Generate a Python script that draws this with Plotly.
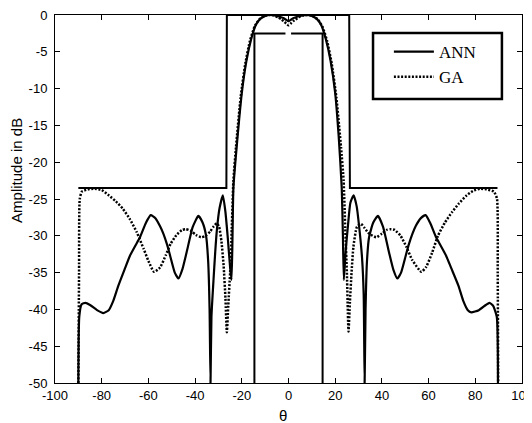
import plotly.graph_objects as go

# ---------------- data ----------------
ann_theta = [-90, -89.6, -88.6, -87, -85, -82, -79.3, -77, -75, -72.9, -70, -67.9, -65, -63.6,
             -61, -59, -57, -55, -53.6, -52, -50.7, -48.7, -47.1, -45.5, -43.6, -41, -38.6,
             -36.8, -35.3, -34.4, -33.8, -33.4, -33, -32.1, -31.4, -30.7, -29.5, -28.1, -27,
             -26, -25, -24.4, -24, -23.6, -22, -20, -18, -16, -14, -12, -10, -8, -6, -4, -2,
             -1, 0, 1, 2, 4, 6, 8, 10, 12, 14, 16, 18, 20, 21.5, 22.8, 23.3, 23.7, 24.5, 25.5,
             26.5, 27.9, 29.2, 30.5, 31.5, 32.2, 32.6, 33, 33.6, 34.5, 36.3, 38.3, 40.5, 43,
             44.9, 46.6, 48.2, 50.2, 51.5, 53.1, 54.6, 56.7, 58.7, 60.6, 63.2, 64.6, 67.5,
             69.7, 72.8, 74.8, 76.8, 78.3, 81.5, 84.5, 86.1, 87.6, 89.2, 89.7]
ann_db = [-50, -41, -39.3, -39.1, -39.4, -40.1, -40.5, -40.1, -38.8, -36.8, -34.4, -32.7, -31,
          -30.2, -28.2, -27.2, -27.6, -28.7, -29.7, -31.2, -32.7, -35, -35.8, -34.6, -32.2,
          -28.8, -27.3, -28.2, -30, -33.5, -40, -50, -41, -35.9, -32.3, -29.3, -26.2, -24.5,
          -26.8, -30.3, -34.3, -36, -30.5, -23.5, -17.2, -10.6, -6.2, -3.3, -1.35, -0.5,
          -0.12, 0, -0.05, -0.2, -0.45, -0.65, -0.85, -0.65, -0.45, -0.2, -0.05, 0, -0.12,
          -0.5, -1.35, -3.3, -6.2, -10.6, -16.5, -23.5, -30, -36, -32, -28.5, -25.5, -24.5,
          -26, -29.5, -33, -38, -50, -40, -33.5, -30.2, -28.2, -27.3, -28.8, -32.2, -34.6,
          -35.8, -35, -32.7, -31.2, -29.7, -28.6, -27.6, -27.2, -28.2, -30.2, -31, -32.7,
          -34.4, -36.8, -38.8, -40.1, -40.4, -40.1, -39.4, -39.1, -39.5, -41, -50]

ga_theta = [-90, -89.7, -89.4, -88.5, -86, -83, -80, -77, -74, -71, -68, -65, -62, -60, -57.6,
            -55, -52.5, -50.5, -48, -45.5, -44, -42, -39.5, -37.5, -35.5, -33.5, -32, -30.7,
            -29.7, -28.7, -27.8, -27, -26.4, -25.8, -25, -24.3, -23.6, -22.5, -20.5, -18.5,
            -16.5, -14.5, -12.5, -10.5, -8.5, -6.5, -4.5, -3, -2, -1, 0, 1, 2, 3, 4.5, 6.5,
            8.5, 10.5, 12.5, 14.5, 16.5, 18.5, 20.5, 22.5, 23.6, 24.3, 25, 25.7, 26.3, 27,
            27.8, 29.3, 31.1, 32.5, 34.5, 37.6, 40, 42, 44, 45.5, 48, 50.5, 53, 56.9, 59,
            61.5, 64, 67, 70, 73, 76, 79, 82, 85, 88, 89.3, 89.6, 89.8]
ga_db = [-50, -35, -25, -24, -23.7, -23.6, -23.8, -24.5, -25.3, -26.3, -27.7, -29.5, -31.8,
         -33.4, -34.9, -34.3, -32.6, -31.1, -29.9, -29.2, -29.1, -29.3, -29.9, -30.2, -30,
         -29.4, -28.7, -28.3, -28.8, -30.8, -34, -38.5, -43.1, -39.5, -35, -29, -22.5, -18,
         -11.2, -6.6, -3.5, -1.55, -0.6, -0.15, 0, -0.05, -0.3, -0.6, -0.85, -1.15, -1.4,
         -1.15, -0.85, -0.6, -0.3, -0.05, 0, -0.15, -0.6, -1.55, -3.5, -6.6, -11.2, -18,
         -22.5, -29, -35, -43, -39, -35, -31.5, -28.8, -28.4, -28.9, -29.7, -30.2, -29.7,
         -29.2, -29.1, -29.2, -30, -31.5, -33.3, -34.9, -34.2, -32.3, -30, -28.2, -26.8,
         -25.6, -24.6, -23.9, -23.6, -23.7, -24, -25, -35, -50]

# pattern mask (upper and lower bounds)
mask_upper_theta = [-90, -26.6, -26.4, 26.0, 26.3, 89.5]
mask_upper_db = [-23.5, -23.5, 0, 0, -23.5, -23.5]
mask_lower_theta = [-14.6, -14.6, -1.3, None, 1.1, 14.6, 14.6]
mask_lower_db = [-50, -2.5, -2.5, None, -2.5, -2.5, -50]

x_tick_vals = [-100, -80, -60, -40, -20, 0, 20, 40, 60, 80, 100]
x_tick_text = ["-100", "-80", "-60", "-40", "-20", "0", "20", "40", "60", "80", "100"]
y_tick_vals = [-50, -45, -40, -35, -30, -25, -20, -15, -10, -5, 0]
y_tick_text = ["-50", "-45", "-40", "-35", "-30", "-25", "-20", "-15", "-10", "-5", "0"]

# ---------------- figure ----------------
fig = go.Figure()
fig.add_trace(go.Scatter(x=mask_upper_theta, y=mask_upper_db, mode="lines",
                         line=dict(color="black", width=2), showlegend=False, hoverinfo="skip"))
fig.add_trace(go.Scatter(x=mask_lower_theta, y=mask_lower_db, mode="lines",
                         line=dict(color="black", width=2), showlegend=False, hoverinfo="skip"))
fig.add_trace(go.Scatter(x=ann_theta, y=ann_db, mode="lines", name="ANN",
                         line=dict(color="black", width=2.2, shape="spline", smoothing=0.5)))
fig.add_trace(go.Scatter(x=ga_theta, y=ga_db, mode="lines", name="GA",
                         line=dict(color="black", width=2.5, dash="2px,1.6px",
                                   shape="spline", smoothing=0.5)))

axis_common = dict(showline=True, linecolor="black", linewidth=1, mirror="ticks",
                   ticks="inside", ticklen=5, tickwidth=1, tickcolor="black",
                   showgrid=False, zeroline=False, ticklabeloverflow="allow",
                   automargin=False,
                   tickfont=dict(family="Liberation Sans, Arial, sans-serif", size=13, color="black"))

fig.update_xaxes(range=[-100, 100], tickmode="array", tickvals=x_tick_vals,
                 ticktext=x_tick_text, ticklabelstandoff=0, **axis_common)
fig.update_yaxes(range=[-50, 0], tickmode="array", tickvals=y_tick_vals,
                 ticktext=y_tick_text, ticklabelstandoff=4, **axis_common)

# the page body adds an 8 px margin; the figure is sized so the plot lands where the reference's does
fig.update_layout(
    width=532, height=423,
    margin=dict(l=47, r=18, t=7, b=48, autoexpand=False),
    paper_bgcolor="white", plot_bgcolor="white",
    showlegend=True,
    legend=dict(x=0.715, y=0.948, xanchor="left", yanchor="top",
                borderwidth=0, bgcolor="rgba(0,0,0,0)",
                font=dict(family="Liberation Serif, Times New Roman, serif", size=17, color="black"),
                itemwidth=40, tracegroupgap=0),
    shapes=[
        dict(type="rect", xref="paper", yref="paper", x0=0.681, x1=0.957, y0=0.772, y1=0.951,
             line=dict(color="black", width=2.5), fillcolor="white", layer="above"),
    ],
    annotations=[
        dict(text="Amplitude in dB", xref="paper", yref="paper",
             x=-0.0814, y=0.579, xanchor="center", yanchor="middle", textangle=-90,
             showarrow=False,
             font=dict(family="Liberation Sans, Arial, sans-serif", size=15, color="black")),
        dict(text="θ", xref="paper", yref="paper",
             x=0.4876, y=-0.0880, xanchor="center", yanchor="middle",
             showarrow=False,
             font=dict(family="Liberation Sans, Arial, sans-serif", size=15, color="black")),
    ],
)

fig.write_html("out.html")
